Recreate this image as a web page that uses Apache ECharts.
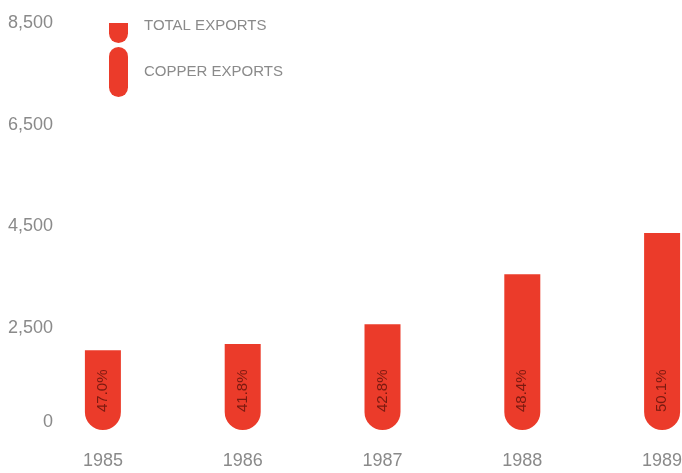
<!DOCTYPE html>
<html>
<head>
<meta charset="utf-8">
<script src="https://cdn.jsdelivr.net/npm/echarts@6/dist/echarts.min.js"></script>
<style>html,body{margin:0;padding:0;background:#fff}#c{width:682px;height:473px}</style>
</head>
<body>
<div id="c"></div>
<script>
const years = ['1985', '1986', '1987', '1988', '1989'];
const totalExports = [2070, 2190, 2580, 3560, 4370];
const copperExports = [973, 915, 1104, 1723, 2189];
const copperShare = ['47.0%', '41.8%', '42.8%', '48.4%', '50.1%'];
const yTickLabels = ['0', '2,500', '4,500', '6,500', '8,500'];

const RED = '#eb3b2a';
const GREY = '#8a8a8a';
const FONT = 'Liberation Sans';
const chart = echarts.init(document.getElementById('c'));
chart.setOption({
  backgroundColor: '#fff',
  animation: false,
  legend: [{
    data: ['TOTAL EXPORTS'],
    left: 109, top: 18, padding: 0,
    orient: 'vertical',
    itemWidth: 19, itemHeight: 20, itemGap: 16,
    icon: 'path://M0,0H19V10.5A9.5,9.5 0 0 1 0,10.5Z',
    formatter: '{a|{name}}{s|}',
    textStyle: {
      color: GREY, fontFamily: FONT, fontSize: 15,
      rich: {
        a: { color: GREY, fontFamily: FONT, fontSize: 15, verticalAlign: 'top', padding: [0, 0, 0, 11] },
        s: { height: 30, width: 0 }
      }
    },
    selectedMode: false
  }, {
    data: [{ name: 'COPPER EXPORTS', itemStyle: { color: RED, opacity: 1 } }],
    left: 109, top: 47, padding: 0,
    orient: 'vertical',
    itemWidth: 19, itemHeight: 50, itemGap: 16,
    icon: 'path://M0,9.5A9.5,9.5 0 0 1 19,9.5V40.5A9.5,9.5 0 0 1 0,40.5Z',
    formatter: '{a|{name}}',
    textStyle: {
      color: GREY, fontFamily: FONT, fontSize: 15,
      rich: { a: { color: GREY, fontFamily: FONT, fontSize: 15, padding: [0, 0, 0, 11] } }
    },
    selectedMode: false
  }],
  grid: { left: 33, width: 699, top: 23, bottom: 43, containLabel: false, outerBoundsMode: 'none' },
  xAxis: {
    type: 'category',
    data: years,
    axisLine: { show: false },
    axisTick: { show: false },
    axisLabel: { color: GREY, fontFamily: FONT, fontSize: 18, margin: 22 }
  },
  yAxis: {
    type: 'value',
    min: 500, max: 8500, interval: 2000,
    startValue: 500,
    axisLine: { show: false },
    axisTick: { show: false },
    splitLine: { show: false },
    axisLabel: {
      color: GREY, fontFamily: FONT, fontSize: 18, margin: -20,
      formatter: function (v, i) { return i === 0 ? '{z|' + yTickLabels[0] + '}' : yTickLabels[i]; },
      rich: { z: { color: GREY, fontFamily: FONT, fontSize: 18, padding: [0, 0, 16, 0] } }
    }
  },
  series: [{
    name: 'TOTAL EXPORTS',
    type: 'bar',
    data: totalExports,
    barWidth: 36,
    barGap: '-100%',
    itemStyle: { color: RED, borderRadius: [0, 0, 18, 18] }
  }, {
    name: 'COPPER EXPORTS',
    type: 'bar',
    data: copperExports,
    barWidth: 36,
    barGap: '-100%',
    z: 3,
    itemStyle: { color: 'rgba(235,59,42,0)', borderRadius: [0, 0, 18, 18] },
    label: {
      show: true,
      position: 'insideBottom',
      distance: 18,
      rotate: 90,
      align: 'left',
      verticalAlign: 'middle',
      color: '#7a1a10',
      fontFamily: FONT,
      fontSize: 15,
      formatter: function (p) { return copperShare[p.dataIndex]; }
    }
  }]
});
</script>
</body>
</html>
